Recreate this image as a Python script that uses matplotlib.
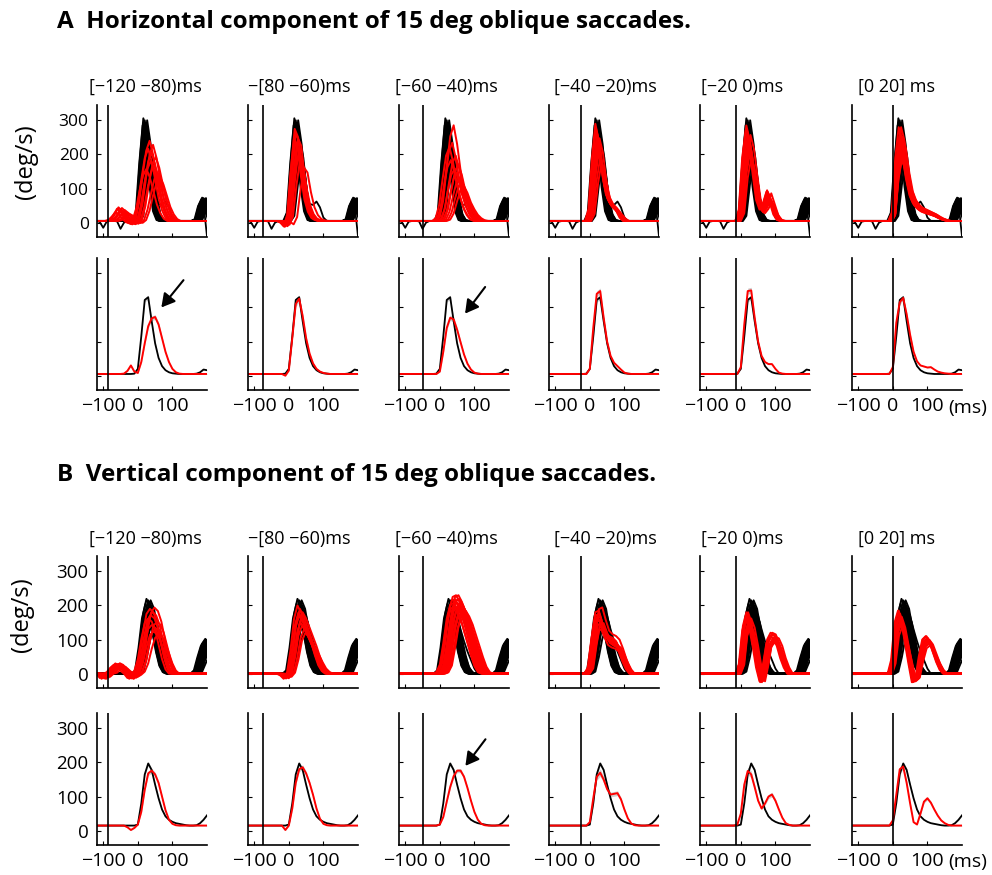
import numpy as np
import matplotlib
matplotlib.use("Agg")
import matplotlib.pyplot as plt

plt.rcParams["font.family"] = ["Open Sans", "DejaVu Sans"]

FIG_W, FIG_H = 992, 875

# sample times (ms): averages on the plotted span, single trials a bit wider
T_MEAN = np.arange(-120, 201, 10)
T_TRIAL = np.arange(-150, 231, 10)

WINDOWS = ["[\u2212120 \u221280)ms", "\u2212[80 \u221260)ms", "[\u221260 \u221240)ms",
           "[\u221240 \u221220)ms", "[\u221220 0)ms", "[0 20] ms"]
STIM_MS = [-85, -75, -50, -25, -15, 0]

# ---------------- horizontal component ----------------
# averages (deg/s), -120..200 ms
BLACK_MEAN_H = [5] * 11 + [6] + [20, 115, 222, 230, 160, 95, 52, 28, 16, 10, 7, 6, 5, 5, 5, 5, 5, 6, 10, 18, 16]
RED_MEAN_H1 = [5, 5, 5, 5, 5, 5, 5, 5, 6, 14, 30, 12] + [8, 40, 95, 145, 168, 172, 150, 110, 70, 40, 20, 10, 6, 5, 5, 5, 5, 5, 5, 5, 5]
RED_MEAN_H2 = [5] * 11 + [0] + [15, 110, 210, 226, 175, 110, 65, 36, 20, 12, 8, 6, 5, 5, 5, 5, 5, 5, 5, 5, 5]
RED_MEAN_H3 = [5] * 12 + [12, 70, 140, 170, 165, 135, 98, 62, 35, 18, 9, 6, 5, 5, 5, 5, 5, 5, 5, 5, 5]
RED_MEAN_H4 = [5] * 12 + [20, 140, 240, 248, 170, 100, 58, 38, 28, 18, 9, 6, 5, 5, 5, 5, 5, 5, 5, 5, 5]
RED_MEAN_H5 = [5] * 12 + [25, 150, 248, 250, 170, 100, 58, 40, 34, 34, 20, 9, 6, 5, 5, 5, 5, 5, 5, 5, 5]
RED_MEAN_H6 = [5] * 12 + [25, 155, 215, 228, 180, 120, 70, 42, 30, 27, 24, 25, 18, 12, 9, 7, 6, 5, 5, 5, 5]
RED_SEM_H = [6, 8, 7, 8, 8, 6]

# single trials, -150..230 ms
BLACK_TRIAL_H = [5] * 15 + [30, 180, 300, 230, 110, 35, 8, 5, 5, 5, 5, 5, 5, 5, 5, 5, 5, 10, 50, 72, 40, 5, 5, 5]
BLACK_EXTRA_H = [5, 5, 5, 5, 2, -15, 3, 5, 5, 4, -18, 0, 5, 5, 5] + [25, 150, 250, 210, 130, 75, 55, 52, 62, 45, 15, 5, 5, 5, 5, 5, 5, 5, 5, 55, -40, -40, -40, -40]
BLACK_SHIFT_H = [-6, -4, -3, -2, 0, 0, 1, 2, 3, 4, 5, 6, 7, 8, 9, 10, 11, 12, 14, 16]
BLACK_GAIN_H = [0.95, 1.02, 0.93, 0.88, 1.0, 0.8, 0.78, 0.92, 0.7, 0.97, 0.85, 0.62, 1.0, 0.9, 0.75, 0.66, 0.72, 0.82, 0.7, 0.6]

RED_TRIAL_H1 = [5, 5, 5, 5, 5, 5, 5, 5, 10, 25, 45, 35, 15, 0, -5] + [10, 60, 140, 210, 240, 200, 140, 80, 40, 15] + [5] * 14
RED_SHIFT_H1 = [-15, -10, -6, -2, 0, 4, 8, 12, 18, 24]
RED_GAIN_H1 = [0.65, 0.9, 1.0, 0.75, 0.85, 0.95, 0.7, 0.8, 0.6, 0.55]
RED_TRIAL_H2 = [5] * 13 + [0, -12] + [25, 165, 275, 250, 150, 75, 35, 15, 8] + [5] * 15
RED_SHIFT_H2 = [-5, -3, -1, 0, 2, 4, 6, 8, 12, 24]
RED_GAIN_H2 = [0.9, 1.0, 0.85, 0.95, 0.8, 0.7, 0.9, 0.75, 0.65, 0.58]
RED_TRIAL_H3 = [5] * 15 + [15, 60, 150, 230, 260, 210, 140, 90, 50, 25, 10] + [5] * 13
RED_SHIFT_H3 = [-12, -8, -4, 0, 3, 6, 10, 14, 18, 24, 30]
RED_GAIN_H3 = [0.85, 0.7, 0.9, 1.1, 0.6, 0.75, 0.55, 0.65, 0.5, 0.45, 0.4]
RED_TRIAL_H4 = [5] * 15 + [40, 190, 290, 240, 140, 85, 62, 50, 35, 15] + [5] * 14
RED_SHIFT_H4 = [-4, -2, 0, 1, 2, 4, 6, 8, 10, 14]
RED_GAIN_H4 = [1.0, 0.95, 0.85, 0.9, 0.8, 0.75, 0.7, 0.85, 0.65, 0.6]
RED_TRIAL_H5 = [5] * 15 + [40, 200, 285, 240, 150, 70, 40, 60, 95, 60, 25, 8] + [5] * 12
RED_SHIFT_H5 = [-4, -2, 0, 2, 3, 4, 6, 8, -6, 10]
RED_GAIN_H5 = [1.0, 0.95, 0.9, 0.85, 0.8, 0.75, 0.7, 0.9, 0.95, 0.65]
RED_TRIAL_H6 = [5] * 15 + [30, 190, 280, 240, 160, 100, 70, 55, 45, 40, 35, 30, 25, 18, 12, 8] + [5] * 8
RED_SHIFT_H6 = [-3, -1, 0, 1, 2, 3, 5, 6, 8, -2, 4, 7]
RED_GAIN_H6 = [1.0, 0.9, 0.8, 0.95, 0.7, 0.85, 0.75, 0.65, 0.9, 0.8, 1.0, 0.7]

# ---------------- vertical component ----------------
BLACK_MEAN_V = [15] * 12 + [18, 80, 165, 197, 178, 135, 95, 62, 42, 32, 26, 22, 20, 18, 16, 15, 15, 16, 22, 32, 45]
RED_MEAN_V1 = [15] * 9 + [10, 2, 8] + [18, 55, 120, 168, 176, 165, 140, 100, 60, 32, 20, 16, 15, 15, 15, 15, 15, 15, 15, 15, 15]
RED_MEAN_V2 = [15] * 11 + [2] + [15, 65, 140, 180, 186, 168, 140, 105, 65, 35, 20, 16, 15, 15, 15, 15, 15, 15, 15, 15, 15]
RED_MEAN_V3 = [15] * 12 + [18, 40, 85, 128, 160, 176, 176, 158, 125, 88, 55, 32, 20, 16, 15, 15, 15, 15, 15, 15, 15]
RED_MEAN_V4 = [15] * 12 + [25, 95, 158, 170, 150, 122, 106, 108, 110, 92, 62, 36, 21, 16, 15, 15, 15, 15, 15, 15, 15]
RED_MEAN_V5 = [15] * 11 + [18] + [50, 135, 175, 165, 128, 88, 65, 80, 100, 106, 88, 62, 38, 22, 17, 15, 15, 15, 15, 15, 15]
RED_MEAN_V6 = [15] * 12 + [30, 105, 180, 188, 140, 80, 25, 18, 50, 85, 95, 82, 62, 44, 30, 22, 17, 15, 15, 15, 15]
RED_SEM_V = [6, 6, 5, 10, 10, 8]

BLACK_TRIAL_V = [0] * 15 + [10, 80, 170, 215, 190, 130, 70, 25, 5, 0, 0, 0, 0, 0, 0, 0, 0, 10, 50, 85, 100, 60, 0, 0]
BLACK_EXTRA_V = [0] * 15 + [5, 40, 110, 170, 190, 170, 130, 95, 65, 40, 15, 0, 0, 0, 0, 0, 0, 0, 20, 60, 95, 95, 0, 0]
BLACK_SHIFT_V = [-8, -5, -3, -2, 0, 0, 1, 2, 3, 4, 5, 6, 7, 8, 10, 12, 14, 16, -6, 9]
BLACK_GAIN_V = [0.95, 1.02, 0.9, 0.85, 1.0, 0.8, 0.75, 0.92, 0.7, 0.98, 0.85, 0.65, 1.0, 0.9, 0.75, 0.7, 0.8, 0.6, 0.88, 0.72]

RED_TRIAL_V1 = [0, 0, 0, 0, 0, -15, 0, 5, 20, 30, 25, 10, 0, -15, -5] + [10, 50, 120, 175, 190, 180, 150, 100, 50, 15] + [0] * 14
RED_SHIFT_V1 = [-10, -5, -2, 0, 3, 5, 8, 12, 15, 20]
RED_GAIN_V1 = [0.85, 1.0, 0.9, 0.75, 0.95, 0.65, 1.02, 0.7, 0.8, 0.6]
RED_TRIAL_V2 = [0] * 13 + [-5, -15] + [5, 70, 160, 200, 180, 150, 120, 90, 55, 25, 8] + [0] * 13
RED_SHIFT_V2 = [-5, -2, 0, 2, 4, 6, 8, 10, 14, 18]
RED_GAIN_V2 = [1.0, 0.9, 0.85, 0.95, 0.75, 0.8, 0.7, 0.9, 0.65, 0.6]
RED_TRIAL_V3 = [0] * 15 + [5, 30, 100, 180, 225, 230, 210, 180, 140, 100, 60, 25, 5] + [0] * 11
RED_SHIFT_V3 = [-10, -8, -6, -3, 0, 2, 4, 5, 6, 8, 10, 12, 14, 15, 18, 20, 22, 25]
RED_GAIN_V3 = [0.9, 0.85, 0.95, 1.0, 0.85, 0.9, 1.0, 0.95, 0.8, 0.95, 0.85, 0.9, 0.8, 0.75, 0.85, 0.7, 0.75, 0.8]
RED_TRIAL_V4 = [0] * 15 + [20, 110, 180, 185, 150, 120, 110, 105, 95, 70, 40, 15] + [0] * 12
RED_SHIFT_V4 = [-4, -2, 0, 2, 4, 6, 8, -6, 3, 10]
RED_GAIN_V4 = [1.0, 0.95, 0.9, 0.85, 0.8, 1.05, 0.75, 0.9, 0.7, 0.8]
RED_TRIAL_V5 = [0] * 15 + [30, 140, 180, 150, 90, 20, -25, 30, 100, 120, 115, 90, 50, 20] + [0] * 10
RED_SHIFT_V5 = [-4, -2, 0, 2, 4, 6, -6, 1, 3, 8, 10, 5]
RED_GAIN_V5 = [1.0, 0.9, 0.95, 0.85, 0.8, 0.75, 0.9, 1.0, 0.85, 0.8, 0.9, 0.85]
RED_TRIAL_V6 = [0] * 15 + [40, 150, 185, 150, 90, 30, -25, -15, 50, 100, 110, 95, 65, 35, 12] + [0] * 9
RED_SHIFT_V6 = [-3, -1, 0, 2, 4, -5, 6, 8, 1, 3, -2, 5]
RED_GAIN_V6 = [1.0, 0.95, 0.9, 0.85, 0.8, 1.0, 0.9, 0.75, 0.95, 0.85, 0.9, 0.8]

# layout in pixels
COL_LEFT = [97, 248, 399, 549, 700, 852]
TITLE_X = [145, 299, 446, 605, 742, 897]
AX_W, AX_H = 110, 132
XLIM = (-118, 200)
YLIM = (-42, 345)

components = [
    dict(letter="A", title="Horizontal component of 15 deg oblique saccades.",
         title_y=22, win_y=87, row_top=(105, 258), ylab_y=162, ylab_x=26,
         black_mean=BLACK_MEAN_H, red_means=[RED_MEAN_H1, RED_MEAN_H2, RED_MEAN_H3, RED_MEAN_H4, RED_MEAN_H5, RED_MEAN_H6],
         red_sem=RED_SEM_H, black_trial=BLACK_TRIAL_H, black_extra=BLACK_EXTRA_H,
         black_shift=BLACK_SHIFT_H, black_gain=BLACK_GAIN_H,
         red_trials=[RED_TRIAL_H1, RED_TRIAL_H2, RED_TRIAL_H3, RED_TRIAL_H4, RED_TRIAL_H5, RED_TRIAL_H6],
         red_shift=[RED_SHIFT_H1, RED_SHIFT_H2, RED_SHIFT_H3, RED_SHIFT_H4, RED_SHIFT_H5, RED_SHIFT_H6],
         red_gain=[RED_GAIN_H1, RED_GAIN_H2, RED_GAIN_H3, RED_GAIN_H4, RED_GAIN_H5, RED_GAIN_H6],
         trial_base=5, mean_base=5, ytick_size=12.5, bottom_ylabels=False, ms_y=408,
         arrows=[(0, (68, 200), (132, 280)), (2, (73, 182), (131, 260))]),
    dict(letter="B", title="Vertical component of 15 deg oblique saccades.",
         title_y=475, win_y=539, row_top=(556, 713), ylab_y=615, ylab_x=22,
         black_mean=BLACK_MEAN_V, red_means=[RED_MEAN_V1, RED_MEAN_V2, RED_MEAN_V3, RED_MEAN_V4, RED_MEAN_V5, RED_MEAN_V6],
         red_sem=RED_SEM_V, black_trial=BLACK_TRIAL_V, black_extra=BLACK_EXTRA_V,
         black_shift=BLACK_SHIFT_V, black_gain=BLACK_GAIN_V,
         red_trials=[RED_TRIAL_V1, RED_TRIAL_V2, RED_TRIAL_V3, RED_TRIAL_V4, RED_TRIAL_V5, RED_TRIAL_V6],
         red_shift=[RED_SHIFT_V1, RED_SHIFT_V2, RED_SHIFT_V3, RED_SHIFT_V4, RED_SHIFT_V5, RED_SHIFT_V6],
         red_gain=[RED_GAIN_V1, RED_GAIN_V2, RED_GAIN_V3, RED_GAIN_V4, RED_GAIN_V5, RED_GAIN_V6],
         trial_base=0, mean_base=15, ytick_size=13.5, bottom_ylabels=True, ms_y=862,
         arrows=[(2, (74, 190), (132, 268))]),
]


def add_axes_px(fig, left, top):
    return fig.add_axes([left / FIG_W, 1 - (top + AX_H) / FIG_H, AX_W / FIG_W, AX_H / FIG_H])


def style_axes(ax, xlabels, ylabels, ytick_size):
    ax.set_xlim(*XLIM)
    ax.set_ylim(*YLIM)
    for side in ("top", "right"):
        ax.spines[side].set_visible(False)
    for side in ("left", "bottom"):
        ax.spines[side].set_linewidth(1.2)
    ax.set_xticks([-100, 0, 100])
    ax.set_yticks([0, 100, 200, 300])
    ax.tick_params(direction="in", length=3, width=0.8)
    ax.tick_params(axis="x", labelsize=14, pad=5, labelbottom=xlabels)
    ax.tick_params(axis="y", labelsize=ytick_size, pad=6, labelleft=ylabels)


def draw_trials(ax, template, shifts, gains, base, color, lw):
    y = np.asarray(template, dtype=float)
    for s, g in zip(shifts, gains):
        ax.plot(T_TRIAL + s, base + g * (y - base), color=color, lw=lw, solid_joinstyle="round")


fig = plt.figure(figsize=(FIG_W / 100, FIG_H / 100), dpi=100)

for comp in components:
    fig.text(57 / FIG_W, 1 - comp["title_y"] / FIG_H, comp["letter"] + "  " + comp["title"],
             fontsize=17.5, fontweight="bold", ha="left", va="center")
    fig.text(comp["ylab_x"] / FIG_W, 1 - comp["ylab_y"] / FIG_H, "(deg/s)",
             fontsize=17, rotation=90, ha="center", va="center")
    top_row, bottom_row = comp["row_top"]

    for c in range(6):
        fig.text(TITLE_X[c] / FIG_W, 1 - comp["win_y"] / FIG_H, WINDOWS[c],
                 fontsize=13, ha="center", va="center")

        # individual trials
        ax = add_axes_px(fig, COL_LEFT[c], top_row)
        style_axes(ax, False, c == 0, comp["ytick_size"])
        draw_trials(ax, comp["black_trial"], comp["black_shift"], comp["black_gain"],
                    comp["trial_base"], "black", 1.4)
        draw_trials(ax, comp["black_extra"], [0], [1.0], comp["trial_base"], "black", 1.3)
        draw_trials(ax, comp["red_trials"][c], comp["red_shift"][c], comp["red_gain"][c],
                    comp["trial_base"], "#ff0000", 1.4)
        ax.axvline(STIM_MS[c], color="black", lw=1.2)

        # averages with error band
        ax = add_axes_px(fig, COL_LEFT[c], bottom_row)
        style_axes(ax, True, c == 0 and comp["bottom_ylabels"], comp["ytick_size"])
        base = comp["mean_base"]
        for mean, sem in ((comp["black_mean"], 5), (comp["red_means"][c], comp["red_sem"][c])):
            m = np.asarray(mean, dtype=float)
            amp = np.abs(m - base)
            half = sem * amp / amp.max() + 1.0
            ax.fill_between(T_MEAN, m - half, m + half, color="#cfcfcf", lw=0)
        ax.plot(T_MEAN, comp["black_mean"], color="black", lw=1.3, solid_joinstyle="round")
        ax.plot(T_MEAN, comp["red_means"][c], color="#ff0000", lw=1.4, solid_joinstyle="round")
        ax.axvline(STIM_MS[c], color="black", lw=1.2)
        for col, head, tail in comp["arrows"]:
            if col == c:
                ax.annotate("", xy=head, xytext=tail,
                            arrowprops=dict(arrowstyle="-|>,head_length=0.8,head_width=0.45",
                                            color="black", lw=1.5, shrinkA=0, shrinkB=0))

    fig.text(968 / FIG_W, 1 - comp["ms_y"] / FIG_H, "(ms)", fontsize=14, ha="center", va="center")

fig.savefig("out.png", dpi=100)
